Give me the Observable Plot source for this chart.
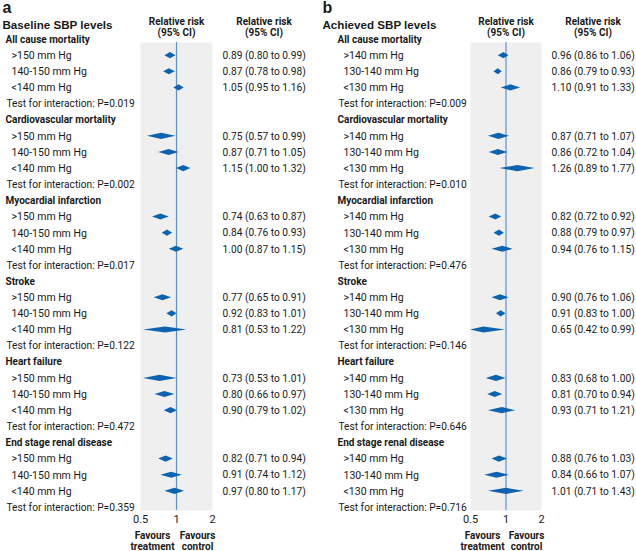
<!DOCTYPE html>
<html>
<head>
<meta charset="utf-8">
<script src="https://cdn.jsdelivr.net/npm/d3@7"></script>
<script src="https://cdn.jsdelivr.net/npm/@observablehq/plot@0.6"></script>
<style>
  html, body { margin: 0; padding: 0; background: #fff; }
  #wrap { display: flex; width: 636px; height: 551px; }
</style>
</head>
<body>
<div id="wrap"></div>
<script>
const outcomes = ["All cause mortality", "Cardiovascular mortality", "Myocardial infarction", "Stroke", "Heart failure", "End stage renal disease"];
const xTicks = [0.5, 1, 2];

const baselineGroups = [">150 mm Hg", "140-150 mm Hg", "<140 mm Hg"];
const baselineRR = [[0.89,0.87,1.05],[0.75,0.87,1.15],[0.74,0.84,1.00],[0.77,0.92,0.81],[0.73,0.80,0.90],[0.82,0.91,0.97]];
const baselineLo = [[0.80,0.78,0.95],[0.57,0.71,1.00],[0.63,0.76,0.87],[0.65,0.83,0.53],[0.53,0.66,0.79],[0.71,0.74,0.80]];
const baselineHi = [[0.99,0.98,1.16],[0.99,1.05,1.32],[0.87,0.93,1.15],[0.91,1.01,1.22],[1.01,0.97,1.02],[0.94,1.12,1.17]];
const baselineP = ["0.019","0.002","0.017","0.122","0.472","0.359"];

const achievedGroups = [">140 mm Hg", "130-140 mm Hg", "<130 mm Hg"];
const achievedRR = [[0.96,0.86,1.10],[0.87,0.86,1.26],[0.82,0.88,0.94],[0.90,0.91,0.65],[0.83,0.81,0.93],[0.88,0.84,1.01]];
const achievedLo = [[0.86,0.79,0.91],[0.71,0.72,0.89],[0.72,0.79,0.76],[0.76,0.83,0.42],[0.68,0.70,0.71],[0.76,0.66,0.71]];
const achievedHi = [[1.06,0.93,1.33],[1.07,1.04,1.77],[0.92,0.97,1.15],[1.06,1.00,0.99],[1.00,0.94,1.21],[1.03,1.07,1.43]];
const achievedP = ["0.009","0.010","0.476","0.146","0.646","0.716"];

const fmt = d3.format(".2f");
const BODY = "Roboto, 'Open Sans', sans-serif";
const TITLE = "'Liberation Sans', Arial, sans-serif";

function buildRows(groups, rr, lo, hi, p) {
  const headers = [], subs = [], tests = [], estimates = [];
  outcomes.forEach((o, gi) => {
    const base = gi * 5;
    headers.push({row: base, text: o});
    groups.forEach((g, k) => {
      subs.push({row: base + 1 + k, text: g});
      estimates.push({row: base + 1 + k, id: `${gi}-${k}`, rr: rr[gi][k], lo: lo[gi][k], hi: hi[gi][k]});
    });
    tests.push({row: base + 4, text: `Test for interaction: P=${p[gi]}`});
  });
  return {headers, subs, tests, estimates};
}

function panel({letter, title, groups, rr, lo, hi, p, marginLeft, marginRight, labelLeft, titleLeft}) {
  const {headers, subs, tests, estimates} = buildRows(groups, rr, lo, hi, p);
  const h = 0.19;
  const diamond = estimates.flatMap(e => [
    {id: e.id, x: e.lo, y1: e.row, y2: e.row},
    {id: e.id, x: e.rr, y1: e.row - h, y2: e.row + h},
    {id: e.id, x: e.hi, y1: e.row, y2: e.row}
  ]);
  const off = labelLeft - marginLeft;
  return Plot.plot({
    width: 318,
    height: 551,
    marginLeft, marginRight,
    marginTop: 42,
    marginBottom: 41,
    style: {fontFamily: BODY, fontSize: "11px", color: "#1a1a1a", background: "transparent"},
    x: {type: "log", domain: [0.5, 2], clamp: true, axis: null},
    y: {domain: [0, 29], range: [39, 507], axis: null},
    marks: [
      Plot.frame({fill: "#efefef", stroke: "none"}),
      Plot.ruleX([1], {stroke: "#5b8fd0", strokeWidth: 1.2}),
      Plot.areaY(diamond, {x: "x", y1: "y1", y2: "y2", z: "id", fill: "#0e63b0", curve: "linear"}),
      Plot.axisX({ticks: xTicks, tickFormat: d => String(d), tickSize: 0, tickPadding: 5, fontSize: 11, label: null}),
      // row labels
      Plot.text(headers, {y: "row", text: "text", frameAnchor: "left", textAnchor: "start", dx: off, fontSize: 10, fontWeight: "bold"}),
      Plot.text(subs, {y: "row", text: "text", frameAnchor: "left", textAnchor: "start", dx: off + 6, fontSize: 10.5}),
      Plot.text(tests, {y: "row", text: "text", frameAnchor: "left", textAnchor: "start", dx: off + 1, fontSize: 10.2}),
      // value column
      Plot.text(estimates, {
        y: "row", text: d => `${fmt(d.rr)} (${fmt(d.lo)} to ${fmt(d.hi)})`,
        frameAnchor: "right", textAnchor: "start", dx: 10, fontSize: 10.2
      }),
      // column headers
      Plot.text(["Relative risk\n(95% CI)"], {
        x: 1, frameAnchor: "top", lineAnchor: "bottom", dy: -7, fontWeight: "bold", fontSize: 10, lineHeight: 1.05
      }),
      Plot.text(["Relative risk\n(95% CI)"], {
        frameAnchor: "top-right", textAnchor: "middle", lineAnchor: "bottom", dx: 51.5, dy: -7, fontWeight: "bold", fontSize: 10, lineHeight: 1.05
      }),
      // favours labels
      Plot.text(["Favours\ntreatment"], {
        x: 0.5, frameAnchor: "bottom", textAnchor: "middle", lineAnchor: "top", dx: 12, dy: 20, fontWeight: "bold", fontSize: 10, lineHeight: 1.15
      }),
      Plot.text(["Favours\ncontrol"], {
        x: 2, frameAnchor: "bottom", textAnchor: "middle", lineAnchor: "top", dx: -15, dy: 20, fontWeight: "bold", fontSize: 10, lineHeight: 1.15
      }),
      // panel letter and title
      Plot.text([letter], {
        frameAnchor: "top-left", textAnchor: "start", lineAnchor: "bottom",
        dx: titleLeft - marginLeft, dy: -30, fontSize: 16, fontWeight: "bold", fontFamily: TITLE
      }),
      Plot.text([title], {
        frameAnchor: "top-left", textAnchor: "start", lineAnchor: "bottom",
        dx: titleLeft - marginLeft, dy: -14, fontSize: 11.6, fontWeight: "bold", fontFamily: TITLE
      })
    ]
  });
}

const wrap = document.getElementById("wrap");
wrap.append(panel({letter: "a", title: "Baseline SBP levels", groups: baselineGroups,
  rr: baselineRR, lo: baselineLo, hi: baselineHi, p: baselineP,
  marginLeft: 140, marginRight: 106, labelLeft: 5, titleLeft: 2}));
wrap.append(panel({letter: "b", title: "Achieved SBP levels", groups: achievedGroups,
  rr: achievedRR, lo: achievedLo, hi: achievedHi, p: achievedP,
  marginLeft: 152, marginRight: 95, labelLeft: 19, titleLeft: 4}));
</script>
</body>
</html>
